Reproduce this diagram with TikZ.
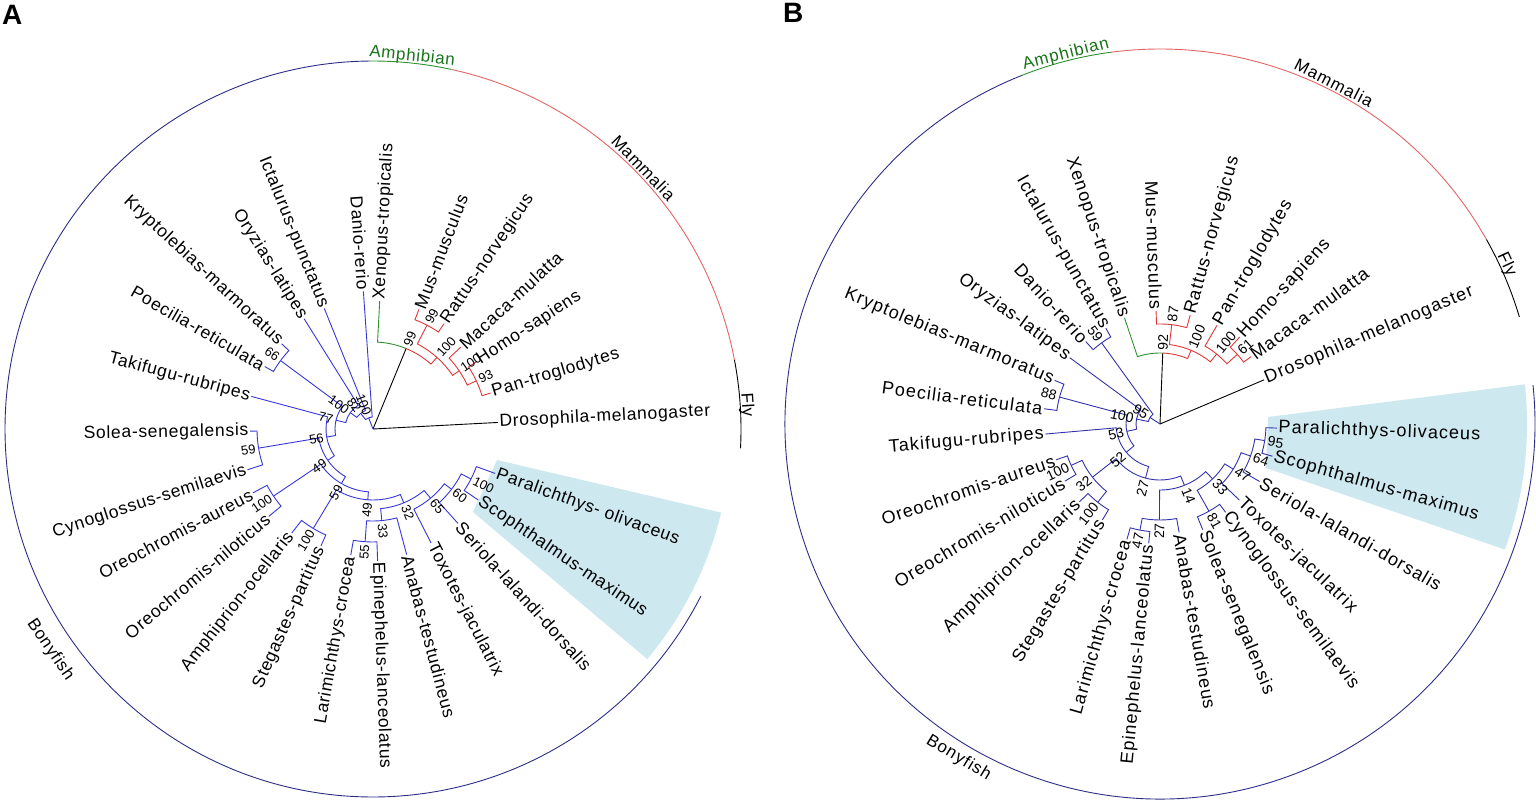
\documentclass[tikz,border=0pt]{standalone}
\usepackage{fontspec}
\setmainfont{Liberation Sans}
\newfontfamily\afam[LetterSpace=4]{Liberation Sans}
\newfontfamily\bfam[LetterSpace=6]{Liberation Sans}

\definecolor{fishblue}{RGB}{55,55,215}
\definecolor{fishnavy}{RGB}{50,50,170}
\definecolor{navyarc}{RGB}{45,45,135}
\definecolor{mamred}{RGB}{222,55,55}
\definecolor{arcred}{RGB}{228,100,100}
\definecolor{amphgreen}{RGB}{45,145,45}
\definecolor{amphtext}{RGB}{25,115,25}
\definecolor{wedgeblue}{RGB}{206,232,240}

\newcommand\tpt[3]{\coordinate (#1) at (#2:#3);%
  \expandafter\xdef\csname ang@#1\endcsname{#2}%
  \expandafter\xdef\csname rad@#1\endcsname{#3}}
\newcommand\tang[1]{\csname ang@#1\endcsname}
\newcommand\trad[1]{\csname rad@#1\endcsname}
\newcommand\tedge[3][]{\draw[#1] (#2) arc[start angle=\tang{#2}, end angle=\tang{#3}, radius=\trad{#2}pt] -- (#3);}
\newcommand\tleaf[4]{\tpt{#1}{#2}{#3}%
  \pgfmathtruncatemacro\lside{cos(#2)<0}%
  \ifnum\lside=1 \node[leafl, anchor=east, rotate=#2+180] (#1-t) at (#1) {#4};%
  \else \node[leafl, anchor=west, rotate=#2] (#1-t) at (#1) {#4};\fi}
\newcommand\tboot[2]{%
  \pgfmathtruncatemacro\lside{cos(\tang{#1})<0}%
  \ifnum\lside=1 \node[bootl, anchor=east, rotate=\tang{#1}+180] (#1-b) at ({\tang{#1}}:{\trad{#1}+2}) {#2};%
  \else \node[bootl, anchor=west, rotate=\tang{#1}] (#1-b) at ({\tang{#1}}:{\trad{#1}+2}) {#2};\fi}

\begin{document}
\begin{tikzpicture}[x=1pt, y=1pt,
    leafl/.style={inner sep=1.5pt},
    bootl/.style={font=\fontsize{13}{13}\selectfont, inner sep=1pt},
    cladel/.style={inner sep=1pt},
    fishedge/.style={draw=fishblue, line width=0.9pt},
    mamedge/.style={draw=mamred, line width=0.9pt},
    amphedge/.style={draw=amphgreen, line width=0.9pt},
    flyedge/.style={draw=black, line width=0.9pt},
    ring/.style={line width=0.9pt}]
    \useasboundingbox (0,0) rectangle (1536,807);

    \node[font=\bfseries\fontsize{28}{28}\selectfont, anchor=north west, inner sep=0pt] (lblA) at (2,802) {A};
    \node[font=\bfseries\fontsize{28}{28}\selectfont, anchor=north west, inner sep=0pt] (lblB) at (783,804) {B};

    % panel A
    \begin{scope}[shift={(373,378)},
        leafl/.append style={font=\afam\fontsize{17.5}{17.5}\selectfont},
        cladel/.append style={font=\afam\fontsize{17}{17}\selectfont}]
        \fill[wedgeblue] (124,-31) -- (-13.5:358) arc[start angle=-13.5, end angle=-40, radius=358pt] -- (100,-83) -- cycle;

        \draw[ring, navyarc] (90.5:368) arc[start angle=90.5, end angle=333, radius=368pt];
        \draw[ring, arcred] (10.8:368) arc[start angle=10.8, end angle=77.7, radius=368pt];
        \draw[ring, amphgreen] (77.7:368) arc[start angle=77.7, end angle=90.5, radius=368pt];
        \draw[ring, black] (-3:368) arc[start angle=-3, end angle=10.8, radius=368pt];
        \node[cladel, text=amphtext, anchor=base, rotate=-6] (a-amph) at (84:370) {Amphibian};
        \node[cladel, anchor=base, rotate=-46] (a-mamm) at (44:370) {Mammalia};
        \node[cladel, anchor=base, rotate=-86.3] (a-fly) at (3.7:370) {Fly};
        \node[cladel, anchor=north, rotate=304.4] (a-bony) at (214.4:382) {Bonyfish};

        \coordinate (a-o) at (0,0);
        \foreach \nm/\an/\rr/\tx in {a-dros/3/125/Drosophila-melanogaster, a-pan/17/123/Pan-troglodytes,
            a-homo/33/124/Homo-sapiens, a-mac/43/120/Macaca-mulatta, a-rat/56/127/Rattus-norvegicus,
            a-mus/69/128/Mus-musculus, a-xen/87/128/Xenopus-tropicalis, a-dan/94/138/Danio-rerio,
            a-ict/112/130/Ictalurus-punctatus, a-ory/122/130/Oryzias-latipes,
            a-kry/137/125/Kryptolebias-marmoratus, a-poe/150/125/Poecilia-reticulata,
            a-tak/165/126/Takifugu-rubripes, a-sol/181/123/Solea-senegalensis,
            a-cyn/198/132/Cynoglossus-semilaevis, a-oa/208/136/Oreochromis-aureus,
            a-on/220/136/Oreochromis-niloticus, a-amp/232/132/Amphiprion-ocellaris,
            a-ste/246/128/Stegastes-partitus, a-lar/260/128/Larimichthys-crocea,
            a-epi/272/132/Epinephelus-lanceolatus, a-ana/285/130/Anabas-testudineus,
            a-tox/297/128/Toxotes-jaculatrix, a-ser/312/127/Seriola-lalandi-dorsalis,
            a-sco/326/127/Scophthalmus-maximus, a-par/340/130/Paralichthys- olivaceus}
            {\tleaf{\nm}{\an}{\rr}{\tx}}
        \foreach \nm/\an/\rr in {a-t99/67.625/87, a-m100/48.25/96, a-r99/62.5/117, a-p100/34/104, a-hp93/25/114,
            a-n100a/111.1/12, a-n82/128.2/20, a-n100b/144.35/28, a-n77/166.7/38, a-kp66/143.5/115,
            a-n56/189.85/47, a-n49/214.7/55, a-sc59/189.5/116, a-n59/239.9/63, a-oreo100/214/120,
            a-n49b/265.8/71, a-as100/239/116, a-n32/292.625/80, a-lea33/275.5/92, a-le55/266/113,
            a-n65/309.75/90, a-n60/322.5/99, a-ps100/333/110}
            {\tpt{\nm}{\an}{\rr}}

        \draw[flyedge] (a-o) -- (a-dros);
        \draw[flyedge] (a-o) -- (a-t99);
        \draw[fishedge] (a-o) -- (a-n100a);
        \tedge[amphedge]{a-t99}{a-xen}
        \foreach \pa/\ch in {a-t99/a-m100, a-m100/a-r99, a-m100/a-p100, a-r99/a-mus, a-r99/a-rat,
            a-p100/a-mac, a-p100/a-hp93, a-hp93/a-homo, a-hp93/a-pan}
            {\tedge[mamedge]{\pa}{\ch}}
        \foreach \pa/\ch in {a-n100a/a-dan, a-n100a/a-n82, a-n82/a-ict, a-n82/a-n100b,
            a-n100b/a-ory, a-n100b/a-n77, a-n77/a-kp66, a-n77/a-n56, a-kp66/a-kry, a-kp66/a-poe,
            a-n56/a-tak, a-n56/a-n49, a-n49/a-sc59, a-n49/a-n59, a-sc59/a-sol, a-sc59/a-cyn,
            a-n59/a-oreo100, a-n59/a-n49b, a-oreo100/a-oa, a-oreo100/a-on, a-n49b/a-as100,
            a-n49b/a-n32, a-as100/a-amp, a-as100/a-ste, a-n32/a-lea33, a-n32/a-n65,
            a-lea33/a-le55, a-lea33/a-ana, a-le55/a-lar, a-le55/a-epi, a-n65/a-tox, a-n65/a-n60,
            a-n60/a-ser, a-n60/a-ps100, a-ps100/a-par, a-ps100/a-sco}
            {\tedge[fishedge]{\pa}{\ch}}

        \foreach \nm/\tx in {a-t99/99, a-m100/100, a-r99/99, a-p100/100, a-hp93/93, a-n100a/100,
            a-n82/82, a-n100b/100, a-n77/77, a-kp66/66, a-n56/56, a-n49/49, a-sc59/59, a-n59/59,
            a-oreo100/100, a-n49b/49, a-as100/100, a-n32/32, a-lea33/33, a-le55/55, a-n65/65,
            a-n60/60, a-ps100/100}
            {\tboot{\nm}{\tx}}
    \end{scope}

    % panel B
    \begin{scope}[shift={(1160,383)},
        leafl/.append style={font=\bfam\fontsize{18}{18}\selectfont},
        cladel/.append style={font=\bfam\fontsize{17}{17}\selectfont},
        bootl/.append style={font=\fontsize{14}{14}\selectfont},
        fishedge/.append style={draw=fishnavy}]
        \fill[wedgeblue] (108,7) -- (6.2:367) arc[start angle=6.2, end angle=-20, radius=367pt] -- (106,-44) -- cycle;

        \draw[ring, navyarc] (111.6:375) arc[start angle=111.6, end angle=366, radius=375pt];
        \draw[ring, black] (16.6:375) arc[start angle=16.6, end angle=29.5, radius=375pt];
        \draw[ring, arcred] (29.5:375) arc[start angle=29.5, end angle=97.4, radius=375pt];
        \draw[ring, amphgreen] (97.4:375) arc[start angle=97.4, end angle=111.6, radius=375pt];
        \node[cladel, text=amphtext, anchor=base, rotate=14.3] (b-amph) at (104.3:377) {Amphibian};
        \node[cladel, anchor=base, rotate=-27] (b-mamm) at (63:377) {Mammalia};
        \node[cladel, anchor=base, rotate=-65.3] (b-fly) at (24.7:377) {Fly};
        \node[cladel, anchor=north, rotate=328.9] (b-bony) at (238.9:381) {Bonyfish};

        \coordinate (b-o) at (0,0);
        \foreach \nm/\an/\rr/\tx in {b-dros/23/113/Drosophila-melanogaster, b-mac/36.5/113/Macaca-mulatta,
            b-homo/47.5/118/Homo-sapiens, b-pan/60/114/Pan-troglodytes, b-rat/74.5/113/Rattus-norvegicus,
            b-mus/92/113/Mus-musculus, b-xen/108.5/112/Xenopus-tropicalis,
            b-ict/119.5/110/Ictalurus-punctatus, b-dan/132/111/Danio-rerio, b-ory/143.7/112/Oryzias-latipes,
            b-kry/157.5/114/Kryptolebias-marmoratus, b-poe/172.5/117/Poecilia-reticulata,
            b-tak/185/115/Takifugu-rubripes, b-oa/199/110/Oreochromis-aureus,
            b-on/211/111/Oreochromis-niloticus, b-amp/224/112/Amphiprion-ocellaris,
            b-ste/239/112/Stegastes-partitus, b-lar/254/120/Larimichthys-crocea,
            b-epi/264.6/120/Epinephelus-lanceolatus, b-ana/280/110/Anabas-testudineus,
            b-sol/292/114/Solea-senegalensis, b-cyn/306.6/110/Cynoglossus-semilaevis,
            b-tox/316.2/110/Toxotes-jaculatrix, b-ser/330/115/Seriola-lalandi-dorsalis,
            b-sco/344/117/Scophthalmus-maximus, b-par/358/117/Paralichthys-olivaceus}
            {\tleaf{\nm}{\an}{\rr}{\tx}}
        \foreach \nm/\an/\rr in {b-t92/87.8/71, b-m100/67.125/80, b-r87/83.25/100, b-p100/51/90,
            b-hm61/42/104, b-n95/146.9/12, b-di59/125.75/100, b-n100/168.1/24, b-n53/192.5/34,
            b-kp88/165/104, b-n52/220/44, b-n27/255/56, b-n32/218.25/86, b-oreo100/205/98,
            b-as100/231.5/100, b-n14/291.7/66, b-lea27/269.65/96, b-le47/259.3/108,
            b-n33/313.8/76, b-sc81/299.3/100, b-n47/328.35/86, b-n64/340.5/96, b-ps95/351/106}
            {\tpt{\nm}{\an}{\rr}}

        \draw[flyedge] (b-o) -- (b-dros);
        \draw[flyedge] (b-o) -- (b-t92);
        \draw[fishedge] (b-o) -- (b-n95);
        \tedge[amphedge]{b-t92}{b-xen}
        \foreach \pa/\ch in {b-t92/b-m100, b-m100/b-r87, b-m100/b-p100, b-r87/b-mus, b-r87/b-rat,
            b-p100/b-pan, b-p100/b-hm61, b-hm61/b-homo, b-hm61/b-mac}
            {\tedge[mamedge]{\pa}{\ch}}
        \foreach \pa/\ch in {b-n95/b-di59, b-n95/b-n100, b-di59/b-ict, b-di59/b-dan,
            b-n100/b-ory, b-n100/b-n53, b-n53/b-kp88, b-n53/b-n52, b-kp88/b-kry, b-kp88/b-poe,
            b-n52/b-tak, b-n52/b-n27, b-n27/b-n32, b-n27/b-n14, b-n32/b-oreo100, b-n32/b-as100,
            b-oreo100/b-oa, b-oreo100/b-on, b-as100/b-amp, b-as100/b-ste, b-n14/b-lea27,
            b-n14/b-n33, b-lea27/b-le47, b-lea27/b-ana, b-le47/b-lar, b-le47/b-epi,
            b-n33/b-sc81, b-n33/b-n47, b-sc81/b-sol, b-sc81/b-cyn, b-n47/b-tox, b-n47/b-n64,
            b-n64/b-ser, b-n64/b-ps95, b-ps95/b-sco, b-ps95/b-par}
            {\tedge[fishedge]{\pa}{\ch}}

        \foreach \nm/\tx in {b-t92/92, b-m100/100, b-r87/87, b-p100/100, b-hm61/61, b-n95/95,
            b-di59/59, b-n100/100, b-n53/53, b-kp88/88, b-n52/52, b-n27/27, b-n32/32,
            b-oreo100/100, b-as100/100, b-n14/14, b-lea27/27, b-le47/47, b-n33/33, b-sc81/81,
            b-n47/47, b-n64/64, b-ps95/95}
            {\tboot{\nm}{\tx}}
    \end{scope}
\end{tikzpicture}
\end{document}
